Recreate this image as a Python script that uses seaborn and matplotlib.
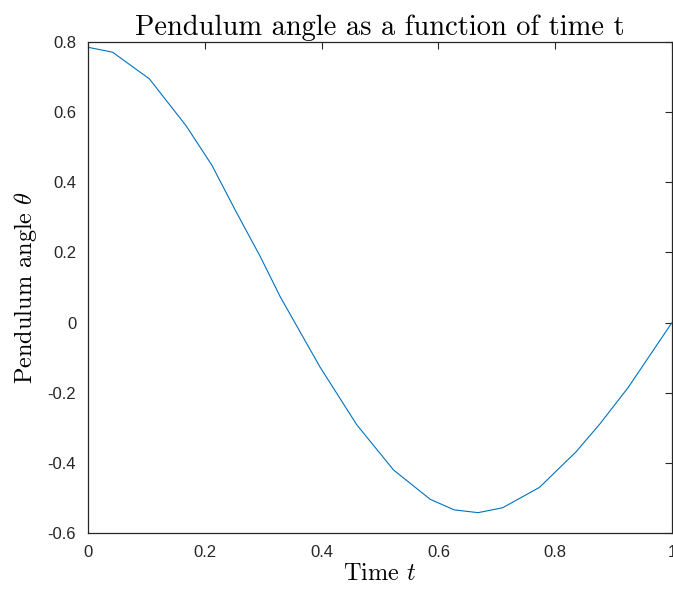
import matplotlib
matplotlib.use("Agg")
import matplotlib.pyplot as plt
import seaborn as sns
import pandas as pd

# Data (solver output points)
time_t = [0.0, 0.042, 0.105, 0.168, 0.212, 0.252, 0.295, 0.329, 0.397,
          0.460, 0.523, 0.586, 0.627, 0.668, 0.710, 0.773, 0.836, 0.877,
          0.925, 1.0]
theta = [0.785, 0.771, 0.695, 0.561, 0.449, 0.321, 0.188, 0.074, -0.126,
         -0.291, -0.420, -0.504, -0.534, -0.542, -0.528, -0.470, -0.368,
         -0.288, -0.185, 0.0]

x_ticks = [0, 0.2, 0.4, 0.6, 0.8, 1]
x_tick_labels = ["0", "0.2", "0.4", "0.6", "0.8", "1"]
y_ticks = [-0.6, -0.4, -0.2, 0, 0.2, 0.4, 0.6, 0.8]
y_tick_labels = ["-0.6", "-0.4", "-0.2", "0", "0.2", "0.4", "0.6", "0.8"]


def main():
    sns.set_style("white")
    plt.rcParams["mathtext.fontset"] = "cm"
    plt.rcParams["font.family"] = ["Liberation Sans", "DejaVu Sans"]

    df = pd.DataFrame({"t": time_t, "theta": theta})

    fig = plt.figure(figsize=(6.73, 5.96), dpi=100)
    ax = fig.add_axes([0.1308, 0.1057, 0.8677, 0.8238])

    sns.lineplot(data=df, x="t", y="theta", sort=False, estimator=None,
                 color="#0072BD", linewidth=0.8, ax=ax)

    ax.set_xlim(0, 1)
    ax.set_ylim(-0.6, 0.8)
    ax.set_xticks(x_ticks)
    ax.set_xticklabels(x_tick_labels)
    ax.set_yticks(y_ticks)
    ax.set_yticklabels(y_tick_labels)

    edge = "#262626"
    for sp in ax.spines.values():
        sp.set_visible(True)
        sp.set_color(edge)
        sp.set_linewidth(0.9)
    ax.tick_params(direction="in", length=5, width=0.8, colors=edge,
                   labelsize=12, top=True, right=True, pad=8.5)

    serif = "cmr10"
    ax.set_title("Pendulum angle as a function of time t", fontsize=20.5,
                 fontfamily=serif, color="black", pad=5)
    ax.set_xlabel("Time $t$", fontsize=17.5, fontfamily=serif, color="black",
                  labelpad=2)
    ax.set_ylabel(r"Pendulum angle $\theta$", fontsize=17.5, fontfamily=serif,
                  color="black", labelpad=6)

    fig.savefig("out.png", dpi=100, facecolor="white")


if __name__ == "__main__":
    main()
